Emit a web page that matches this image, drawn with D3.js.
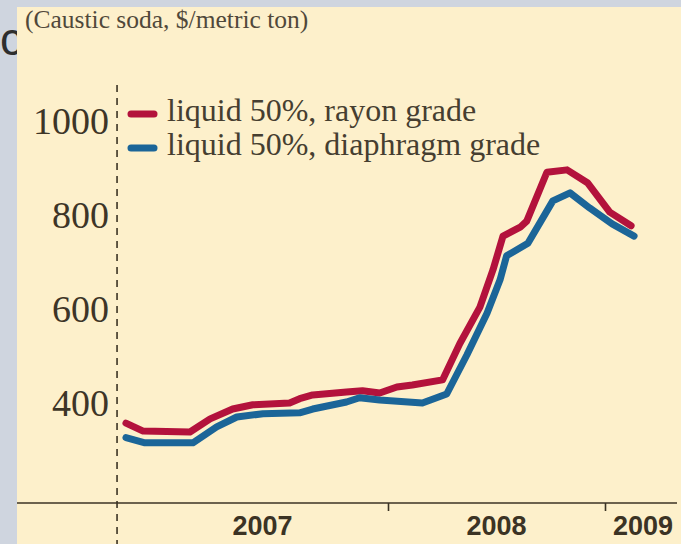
<!DOCTYPE html>
<html>
<head>
<meta charset="utf-8">
<script src="https://cdn.jsdelivr.net/npm/d3@7"></script>
<style>
  body { margin: 0; background: #cfd5df; }
  svg { display: block; }
</style>
</head>
<body>
<svg id="chart" width="681" height="544"></svg>
<script>
// Caustic soda prices, $/metric ton
const titleText = "(Caustic soda, $/metric ton)";
const seriesNames = ["liquid 50%, rayon grade", "liquid 50%, diaphragm grade"];
const seriesColors = ["#b3123c", "#1b6598"];

const rayonDates = ["2006-10-16", "2006-11-14", "2007-02-01", "2007-03-07", "2007-04-14", "2007-05-18",
  "2007-07-19", "2007-08-05", "2007-08-27", "2007-10-23", "2007-11-19", "2007-12-18", "2008-01-16",
  "2008-02-11", "2008-04-02", "2008-05-01", "2008-06-04", "2008-06-26", "2008-07-13", "2008-08-11",
  "2008-08-22", "2008-09-25", "2008-10-29", "2008-12-03", "2009-01-09", "2009-02-14"];
const rayonValues = [357, 340, 338, 366, 387, 396, 400, 409, 417, 423, 426, 421, 434,
  438, 449, 526, 604, 683, 755, 774, 787, 891, 896, 868, 806, 777];

const diaphragmDates = ["2006-10-16", "2006-11-17", "2007-02-06", "2007-03-18", "2007-04-21", "2007-06-04",
  "2007-08-05", "2007-08-27", "2007-10-23", "2007-11-14", "2007-12-18", "2008-02-28", "2008-04-09",
  "2008-05-13", "2008-06-16", "2008-07-08", "2008-07-19", "2008-08-24", "2008-10-05", "2008-11-03",
  "2008-12-06", "2009-01-13", "2009-02-19"];
const diaphragmValues = [326, 315, 315, 349, 370, 377, 379, 387, 402, 411, 406, 400, 419,
  502, 591, 662, 713, 740, 830, 847, 815, 781, 755];

const yTicks = [400, 600, 800, 1000];
const yearTickDates = ["2008-01-01", "2009-01-01"];
const yearLabels = ["2007", "2008", "2009"];
const axisStartDate = "2006-10-01";

const W = 681, H = 544;
const panel = { left: 17, top: 7 };
const plotBottom = 503, plotRight = 677;
const ink = "#3b3324";

const parse = d3.timeParse("%Y-%m-%d");

const x = d3.scaleTime()
  .domain([parse("2008-01-01"), parse("2009-01-01")])
  .range([388, 605]);
const y = d3.scaleLinear()
  .domain([187, 1000])
  .range([plotBottom, 121]);

const svg = d3.select("#chart");

// page frame and cream panel
svg.append("rect").attr("width", W).attr("height", H).attr("fill", "#cfd5df");
svg.append("text")
  .attr("x", 0).attr("y", 55)
  .attr("font-family", "Liberation Sans, Arial, sans-serif")
  .attr("font-size", 46)
  .attr("fill", "#2e2e2e")
  .text("c");
svg.append("rect")
  .attr("x", panel.left).attr("y", panel.top)
  .attr("width", W - panel.left).attr("height", H - panel.top)
  .attr("fill", "#fdf0cb");

// title
svg.append("text")
  .attr("x", 25).attr("y", 28)
  .attr("font-family", "Liberation Serif, Times New Roman, serif")
  .attr("font-size", 25.5)
  .attr("fill", "#50483a")
  .text(titleText);

const axisX = x(parse(axisStartDate));

// dashed vertical axis
svg.append("line")
  .attr("x1", axisX).attr("x2", axisX)
  .attr("y1", 85).attr("y2", H)
  .attr("stroke", ink).attr("stroke-width", 1.6)
  .attr("stroke-dasharray", "7,6");

// y axis labels
const yAxis = svg.append("g")
  .attr("transform", `translate(${axisX},0)`)
  .call(d3.axisLeft(y).tickValues(yTicks).tickSize(0).tickPadding(8).tickFormat(d3.format("d")));
yAxis.select(".domain").remove();
yAxis.selectAll("text")
  .attr("font-family", "Liberation Serif, Times New Roman, serif")
  .attr("font-size", 38)
  .attr("fill", "#3d3527");

// baseline and year ticks
svg.append("line")
  .attr("x1", panel.left).attr("x2", plotRight)
  .attr("y1", plotBottom).attr("y2", plotBottom)
  .attr("stroke", ink).attr("stroke-width", 1.6);

const xAxis = svg.append("g")
  .attr("transform", `translate(0,${plotBottom})`)
  .call(d3.axisBottom(x).tickValues(yearTickDates.map(parse)).tickSize(8).tickFormat(() => ""));
xAxis.select(".domain").remove();
xAxis.selectAll(".tick line").attr("stroke", ink).attr("stroke-width", 1.6);

// year labels centred in each visible year span
const bounds = [axisX, ...yearTickDates.map(d => x(parse(d))), W];
svg.append("g").selectAll("text")
  .data(yearLabels)
  .join("text")
  .attr("x", (d, i) => (bounds[i] + bounds[i + 1]) / 2)
  .attr("dx", (d, i) => (i === 0 ? 10 : 0))
  .attr("y", 535)
  .attr("text-anchor", "middle")
  .attr("font-family", "Liberation Sans, Arial, sans-serif")
  .attr("font-weight", "bold")
  .attr("font-size", 27)
  .attr("fill", ink)
  .text(d => d);

// series lines
const series = [
  { dates: rayonDates, values: rayonValues },
  { dates: diaphragmDates, values: diaphragmValues }
];
const line = d3.line()
  .x(d => x(d.date))
  .y(d => y(d.value));

series.forEach((s, i) => {
  const pts = s.dates.map((d, j) => ({ date: parse(d), value: s.values[j] }));
  svg.append("path")
    .datum(pts)
    .attr("d", line)
    .attr("fill", "none")
    .attr("stroke", seriesColors[i])
    .attr("stroke-width", 7)
    .attr("stroke-linejoin", "round")
    .attr("stroke-linecap", "round");
});

// legend
const legend = svg.append("g");
seriesNames.forEach((name, i) => {
  const cy = 114 + i * 34;
  legend.append("line")
    .attr("x1", 131).attr("x2", 154)
    .attr("y1", cy).attr("y2", cy)
    .attr("stroke", seriesColors[i])
    .attr("stroke-width", 7)
    .attr("stroke-linecap", "round");
  legend.append("text")
    .attr("x", 167).attr("y", cy + 6.5)
    .attr("font-family", "Liberation Serif, Times New Roman, serif")
    .attr("font-size", 32)
    .attr("fill", "#463e30")
    .text(name);
});
</script>
</body>
</html>
